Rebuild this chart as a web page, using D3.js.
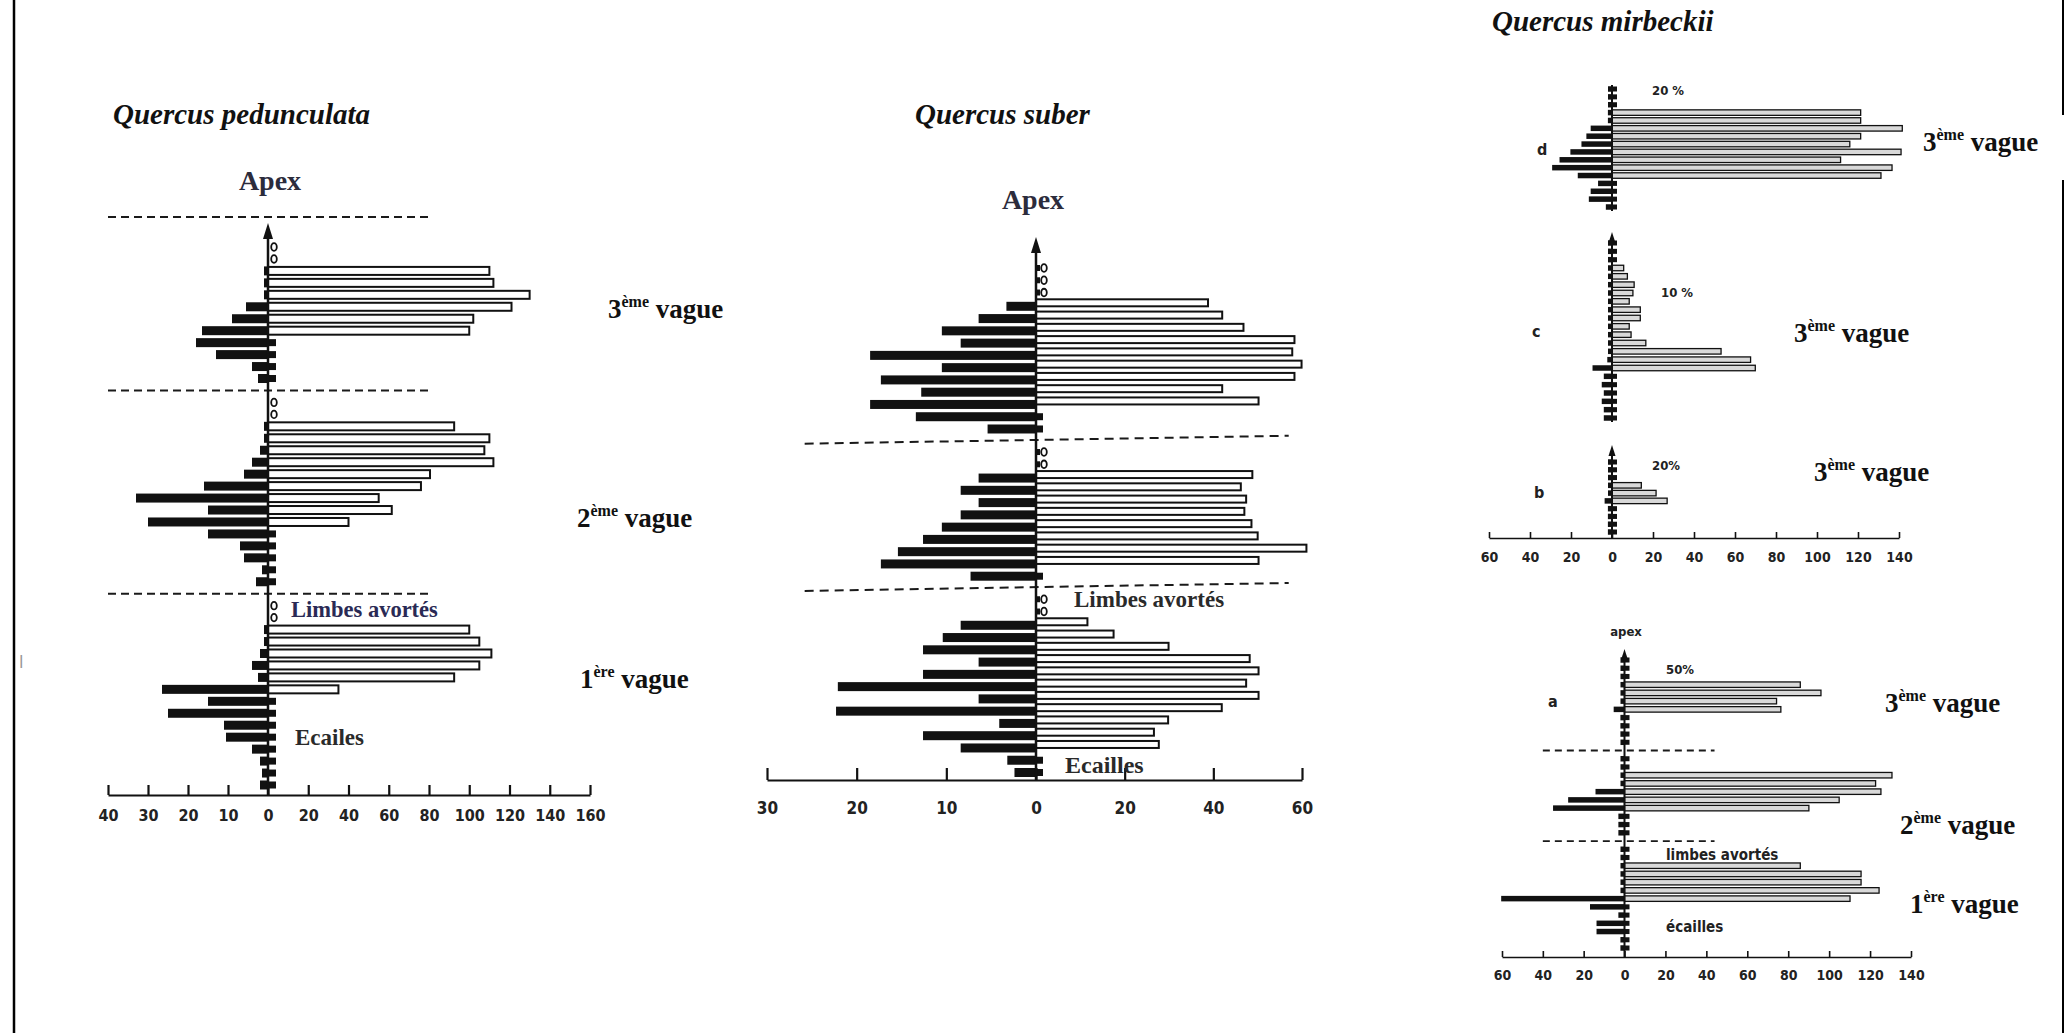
<!DOCTYPE html>
<html>
<head>
<meta charset="utf-8">
<script src="https://cdn.jsdelivr.net/npm/d3@7"></script>
<style>
  html, body { margin: 0; padding: 0; background: #fff; }
  svg { display: block; }
  .title { font-family: "Liberation Serif", "Times New Roman", serif; font-weight: bold; font-style: italic; font-size: 29px; fill: #111; }
  .apex { font-family: "Liberation Serif", "Times New Roman", serif; font-weight: bold; font-size: 28px; fill: #2c2c3c; }
  .vague { font-family: "Liberation Serif", "Times New Roman", serif; font-weight: bold; font-size: 27px; fill: #111; }
  .note { font-family: "Liberation Serif", "Times New Roman", serif; font-weight: bold; font-size: 22px; fill: #2a2a2a; }
  .small { font-family: "Liberation Sans Narrow", "DejaVu Sans Condensed", "Liberation Sans", sans-serif; font-weight: bold; font-size: 13px; fill: #222; }
  .axis text { font-family: "Liberation Sans Narrow", "DejaVu Sans Condensed", "Liberation Sans", sans-serif; font-weight: bold; fill: #222; }
  .axis path, .axis line { stroke: #111; }
</style>
</head>
<body>
<svg id="fig" width="2067" height="1033"></svg>
<script>
// Node series, listed from the base of the shoot (index 0) up to the apex.
// kind codes: "." node with values, "o" aborted node (open ring), "-" limit between two flushes (dashed line)
// left  = black bars drawn to the left of the axis, right = open bars drawn to the right.

// Quercus pedunculata
const pedKind  = "..............oo-..............oo-..........oo".split("");
const pedLeft  = [2, 1.5, 2, 4, 10.5, 11, 25, 15, 26.5, 2.5, 4, 2, 1, 1, null, null, null,
                  3, 1.5, 6, 7, 15, 30, 15, 33, 16, 6, 4, 2, 1, 1, null, null, null,
                  2.5, 4, 13, 18, 16.5, 9, 5.5, 1, 1, 1, null, null];
const pedRight = [0, 0, 0, 0, 0, 0, 0, 0, 35, 92.5, 105, 111, 105, 100, null, null, null,
                  0, 0, 0, 0, 0, 40, 61.5, 55, 76, 80.5, 112, 107.5, 110, 92.5, null, null, null,
                  0, 0, 0, 0, 100, 102, 121, 130, 112, 110, null, null];
const pedTicks = [-40, -30, -20, -10, 0, 20, 40, 60, 80, 100, 120, 140, 160];

// Quercus suber
const suberKind  = ".............oo-.........oo-...........ooo".split("");
const suberLeft  = [2.4, 3.2, 8.4, 12.6, 4.1, 22.3, 6.4, 22.1, 12.6, 6.4, 12.6, 10.4, 8.4, null, null, null,
                    7.3, 17.3, 15.4, 12.6, 10.5, 8.4, 6.4, 8.4, 6.4, null, null, null,
                    5.4, 13.4, 18.5, 12.8, 17.3, 10.5, 18.5, 8.4, 10.5, 6.4, 3.3, null, null, null];
const suberRight = [0, 0, 27.7, 26.6, 29.8, 41.9, 50.2, 47.4, 50.2, 48.2, 29.9, 17.5, 11.6, null, null, null,
                    0, 50.2, 61, 50, 48.6, 47, 47.4, 46.2, 48.8, null, null, null,
                    0, 0, 50.2, 42, 58.3, 59.9, 57.8, 58.3, 46.8, 42, 38.8, null, null, null];
const suberTicks = [-30, -20, -10, 0, 20, 40, 60];

// Quercus mirbeckii, shoots d, c, b (one shared scale) and a
const mirbDKind  = "................".split("");
const mirbDLeft  = [3, 11.3, 10.4, 6.8, 16.7, 29.2, 25.6, 20.3, 14.9, 12.5, 10.4, 2, 2, 0, 0, 0];
const mirbDRight = [0, 0, 0, 0, 131.2, 136.6, 111.5, 141, 116, 121.3, 141.6, 121.3, 121.3, 0, 0, 0];

const mirbCKind  = "......................".split("");
const mirbCLeft  = [4, 4, 5, 4, 5, 4, 9.5, 2.3, 1, 1, 1, 1, 1, 1, 1, 1, 1, 1, 1, 0, 0, 0];
const mirbCRight = [0, 0, 0, 0, 0, 0, 69.9, 67.6, 53.2, 16.5, 9.3, 8.4, 13.8, 13.8, 8.4, 10.2, 10.8, 7.5, 5.7, 0, 0, 0];

const mirbBKind  = "..........".split("");
const mirbBLeft  = [2, 2, 2, 2, 3.6, 1, 1, 0, 0, 0];
const mirbBRight = [0, 0, 0, 0, 26.9, 21.5, 14.3, 0, 0, 0];

const mirbAKind  = ".............-..........-...........".split("");
const mirbALeft  = [2, 2, 13.7, 13.7, 3, 16.9, 60.4, 1, 1, 1, 1, 0, 0, null,
                    3, 3, 3, 35, 27.6, 14.2, 1, 1, 0, 0, null,
                    0, 2, 2, 2, 5.3, 1, 1, 1, 0, 0, 0];
const mirbARight = [0, 0, 0, 0, 0, 0, 110.2, 124.4, 115.6, 115.6, 85.9, 0, 0, null,
                    0, 0, 0, 90.1, 104.9, 125.3, 122.7, 130.7, 0, 0, null,
                    0, 0, 0, 0, 76.4, 74.3, 96, 85.9, 0, 0, 0];
const mirbTicks = [-60, -40, -20, 0, 20, 40, 60, 80, 100, 120, 140];

const titles = ["Quercus pedunculata", "Quercus suber", "Quercus mirbeckii"];

const svg = d3.select("#fig");

// page frame
svg.append("line").attr("x1", 14).attr("x2", 14).attr("y1", 0).attr("y2", 1033)
  .attr("stroke", "#000").attr("stroke-width", 2.5);
svg.append("line").attr("x1", 2063).attr("x2", 2063).attr("y1", 0).attr("y2", 1033)
  .attr("stroke", "#000").attr("stroke-width", 2);

// one shoot profile: bars, rings, flush limits and vertical axis
function drawShoot(p) {
  const g = svg.append("g");
  const n = p.kind.length;
  const y = d3.scalePoint().domain(d3.range(n)).range([p.yBottom, p.yTop]);
  const x0 = p.x(0);
  const rows = d3.range(n).map(i => ({ i, k: p.kind[i], l: p.left[i], r: p.right[i], y: y(i) }));
  const nodes = rows.filter(d => d.k === ".");

  g.selectAll("rect.blk").data(nodes).join("rect").attr("class", "blk")
    .attr("x", d => Math.min(p.x(-d.l), x0 - p.minLeft))
    .attr("y", d => d.y - p.blackH / 2 + p.blackDy)
    .attr("width", d => Math.max(x0 - p.x(-d.l), p.minLeft))
    .attr("height", p.blackH)
    .attr("fill", "#111");

  g.selectAll("rect.tab").data(nodes.filter(d => d.r === 0)).join("rect").attr("class", "tab")
    .attr("x", x0)
    .attr("y", d => d.y - p.tabH / 2 + p.blackDy)
    .attr("width", p.tabW)
    .attr("height", p.tabH)
    .attr("fill", "#111");

  g.selectAll("rect.opn").data(nodes.filter(d => d.r > 0)).join("rect").attr("class", "opn")
    .attr("x", x0)
    .attr("y", d => d.y - p.openH / 2 + p.openDy)
    .attr("width", d => p.x(d.r) - x0)
    .attr("height", p.openH)
    .attr("fill", p.openFill)
    .attr("stroke", "#111")
    .attr("stroke-width", p.openSW);

  const rings = rows.filter(d => d.k === "o");
  if (p.ringTab) {
    g.selectAll("rect.rtab").data(rings).join("rect").attr("class", "rtab")
      .attr("x", x0 - 1).attr("y", d => d.y - 3).attr("width", 5).attr("height", 6).attr("fill", "#111");
  }
  g.selectAll("ellipse.ring").data(rings).join("ellipse").attr("class", "ring")
    .attr("cx", x0 + p.ringDx).attr("cy", d => d.y)
    .attr("rx", 2.8).attr("ry", 3.8)
    .attr("fill", "#fff").attr("stroke", "#111").attr("stroke-width", 1.8);

  const dashes = rows.filter(d => d.k === "-").map(d => d.y);
  if (p.extraDash) dashes.push(y(n - 1) - p.extraDash * y.step());
  g.selectAll("line.flush").data(dashes).join("line").attr("class", "flush")
    .attr("x1", p.x(p.dashFrom)).attr("x2", p.x(p.dashTo))
    .attr("y1", d => d + p.dashTilt).attr("y2", d => d - p.dashTilt)
    .attr("stroke", "#1a1a1a").attr("stroke-width", p.dashW)
    .attr("stroke-dasharray", p.dashArray);

  // vertical axis with arrow
  g.append("line").attr("x1", x0).attr("x2", x0)
    .attr("y1", p.axisBottom).attr("y2", p.tip == null ? p.axisTop : p.tip + 6)
    .attr("stroke", "#111").attr("stroke-width", p.axisW);
  if (p.tip != null) {
    const a = p.arrow;
    g.append("path")
      .attr("d", `M${x0},${p.tip} L${x0 - a[0]},${p.tip + a[1]} L${x0 + a[0]},${p.tip + a[1]} Z`)
      .attr("fill", "#111");
  }
  return g;
}

function drawScale(x, ticks, yBase, size, pad, fontSize, sw) {
  const ax = d3.axisBottom(x).tickValues(ticks).tickFormat(d => Math.abs(d))
    .tickSizeInner(-size).tickSizeOuter(0).tickPadding(pad);
  const g = svg.append("g").attr("class", "axis").attr("transform", `translate(0,${yBase})`).call(ax);
  g.selectAll("path, line").attr("stroke-width", sw);
  g.selectAll("text").attr("font-size", fontSize).attr("dy", "0.71em");
  return g;
}

function label(x, y, cls, txt, anchor) {
  return svg.append("text").attr("class", cls).attr("x", x).attr("y", y)
    .attr("text-anchor", anchor || "start").text(txt);
}

function vague(x, y, num, sup) {
  const t = svg.append("text").attr("class", "vague").attr("x", x).attr("y", y);
  t.append("tspan").text(num);
  t.append("tspan").attr("dy", -11).attr("font-size", 16).text(sup);
  t.append("tspan").attr("dy", 11).text(" vague");
}

// ---------- Quercus pedunculata ----------
const xPed = d3.scaleLinear().domain([-40, 0, 160]).range([108, 268, 590]);
drawShoot({
  kind: pedKind, left: pedLeft, right: pedRight, x: xPed,
  yBottom: 785, yTop: 247,
  blackH: 9, blackDy: 0, tabW: 8, tabH: 7, minLeft: 3,
  openH: 8, openDy: 0, openFill: "#fff", openSW: 2,
  ringDx: 6, ringTab: false,
  dashFrom: -40, dashTo: 81, dashTilt: 0, dashW: 2, dashArray: "8 5", extraDash: 2.5,
  axisBottom: 795, tip: 223, axisTop: null, axisW: 2.5, arrow: [5, 16]
});
drawScale(xPed, pedTicks, 795, 10, 15, 16, 2.2);
label(113, 124, "title", titles[0]);
label(270, 190, "apex", "Apex", "middle");
label(291, 617, "note", "Limbes avortés").style("fill", "#2a2a55").style("font-size", "22.5px");
label(295, 745, "note", "Ecailes").style("font-size", "23px");
vague(608, 318, "3", "ème");
vague(577, 527, "2", "ème");
vague(580, 688, "1", "ère");

// ---------- Quercus suber ----------
const xSub = d3.scaleLinear().domain([-30, 0, 60]).range([767, 1036, 1302]);
drawShoot({
  kind: suberKind, left: suberLeft, right: suberRight, x: xSub,
  yBottom: 771, yTop: 268,
  blackH: 9, blackDy: 1.5, tabW: 7, tabH: 7, minLeft: 3,
  openH: 7, openDy: -2, openFill: "#fff", openSW: 2,
  ringDx: 8, ringTab: true,
  dashFrom: -25.8, dashTo: 57, dashTilt: 4, dashW: 2, dashArray: "9 6", extraDash: 0,
  axisBottom: 780, tip: 237, axisTop: null, axisW: 2.5, arrow: [5, 16]
});
drawScale(xSub, suberTicks, 780, 12, 22, 17, 2.2);
label(915, 124, "title", titles[1]);
label(1033, 209, "apex", "Apex", "middle");
label(1074, 607, "note", "Limbes avortés").style("font-size", "23px");
label(1065, 773, "note", "Ecailles").style("font-size", "24px");

// ---------- Quercus mirbeckii ----------
label(1492, 31, "title", titles[2]);
const xMir = d3.scaleLinear().domain([-60, 0, 140]).range([1489, 1612, 1899]);
const xMirA = d3.scaleLinear().domain([-60, 0, 140]).range([1502, 1624.5, 1911]);
const mirStyle = {
  blackH: 5.5, blackDy: 0, tabW: 5, tabH: 5, minLeft: 4,
  openH: 5.5, openDy: 0, openFill: "#d9d9d9", openSW: 1.3,
  ringDx: 5, ringTab: false,
  dashTilt: 0, dashW: 1.8, dashArray: "7 5", extraDash: 0,
  axisW: 2, arrow: [3.5, 11]
};
drawShoot(Object.assign({}, mirStyle, {
  kind: mirbDKind, left: mirbDLeft, right: mirbDRight, x: xMir,
  yBottom: 207, yTop: 89, dashFrom: 0, dashTo: 0,
  axisBottom: 211, tip: null, axisTop: 85
}));
drawShoot(Object.assign({}, mirStyle, {
  kind: mirbCKind, left: mirbCLeft, right: mirbCRight, x: xMir,
  yBottom: 418, yTop: 243, dashFrom: 0, dashTo: 0,
  axisBottom: 422, tip: 232
}));
drawShoot(Object.assign({}, mirStyle, {
  kind: mirbBKind, left: mirbBLeft, right: mirbBRight, x: xMir,
  yBottom: 532, yTop: 462, dashFrom: 0, dashTo: 0,
  axisBottom: 538, tip: 445
}));
drawScale(xMir, mirbTicks, 538, 6, 14, 14, 1.6);

drawShoot(Object.assign({}, mirStyle, {
  kind: mirbAKind, left: mirbALeft, right: mirbARight, x: xMirA,
  yBottom: 948, yTop: 660, dashFrom: -40, dashTo: 44,
  axisBottom: 957, tip: 649
}));
drawScale(xMirA, mirbTicks, 957, 6, 13, 14, 1.6);

label(1652, 95, "small", "20 %");
label(1661, 297, "small", "10 %");
label(1652, 470, "small", "20%");
label(1666, 674, "small", "50%");
label(1626, 636, "small", "apex", "middle");
label(1666, 860, "small", "limbes avortés").style("font-size", "15px");
label(1666, 932, "small", "écailles").style("font-size", "15px");
label(1537, 155, "small", "d").style("font-size", "16px");
label(1532, 337, "small", "c").style("font-size", "16px");
label(1534, 498, "small", "b").style("font-size", "16px");
label(1548, 707, "small", "a").style("font-size", "16px");

// flush labels, with a white backing where the top label meets the frame
svg.append("rect").attr("x", 1915).attr("y", 115).attr("width", 152).attr("height", 65).attr("fill", "#fff");
vague(1923, 151, "3", "ème");
vague(1794, 342, "3", "ème");
vague(1814, 481, "3", "ème");
vague(1885, 712, "3", "ème");
vague(1900, 834, "2", "ème");
vague(1910, 913, "1", "ère");

// stray mark at the left margin
label(19, 668, "small", "I").style("fill", "#9a9a9a").style("font-size", "17px").style("font-weight", "normal");
</script>
</body>
</html>
